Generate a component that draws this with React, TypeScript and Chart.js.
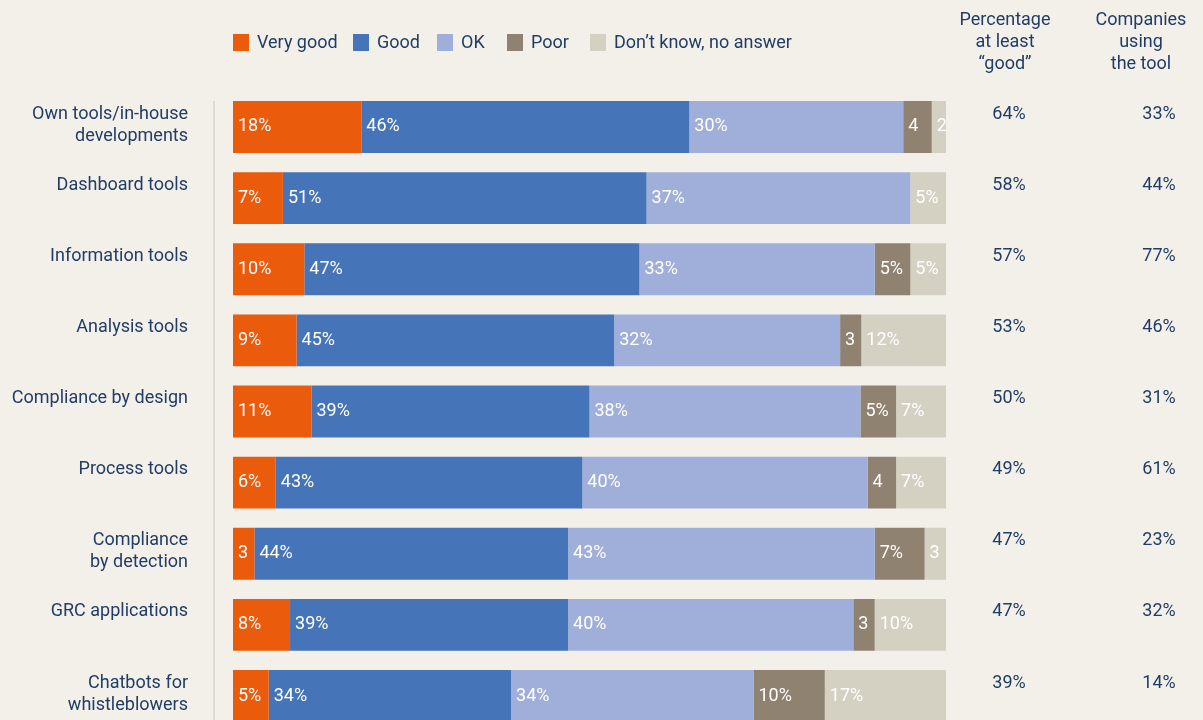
import React, { useEffect, useRef } from "react";
import { Chart, registerables } from "chart.js";

Chart.register(...registerables);

const categories: string[][] = [
  ["Own tools/in-house", "developments"],
  ["Dashboard tools"],
  ["Information tools"],
  ["Analysis tools"],
  ["Compliance by design"],
  ["Process tools"],
  ["Compliance", "by detection"],
  ["GRC applications"],
  ["Chatbots for", "whistleblowers"],
];

const seriesNames = ["Very good", "Good", "OK", "Poor", "Don\u2019t know, no answer"];
const veryGood = [18, 7, 10, 9, 11, 6, 3, 8, 5];
const good = [46, 51, 47, 45, 39, 43, 44, 39, 34];
const ok = [30, 37, 33, 32, 38, 40, 43, 40, 34];
const poor = [4, 0, 5, 3, 5, 4, 7, 3, 10];
const dontKnow = [2, 5, 5, 12, 7, 7, 3, 10, 17];
const atLeastGood = [64, 58, 57, 53, 50, 49, 47, 47, 39];
const companiesUsing = [33, 44, 77, 46, 31, 61, 23, 32, 14];

const colHeader1 = ["Percentage", "at least", "\u201Cgood\u201D"];
const colHeader2 = ["Companies", "using", "the tool"];

const colors = ["#EA5B0C", "#4574B8", "#9FAFD9", "#8F8270", "#D4D1C3"];
const BG = "#F3F0EA";
const NAVY = "#213D65";
const FONT = "Roboto, 'DejaVu Sans', sans-serif";
const FS = 18;
const legendX = [233, 353, 437, 507, 590];

const rawSeries = [veryGood, good, ok, poor, dontKnow];

export default function App() {
  const ref = useRef<HTMLCanvasElement | null>(null);

  useEffect(() => {
    const canvas = ref.current;
    if (!canvas) return;
    document.body.style.margin = "0";
    document.body.style.background = BG;

    const totals = categories.map((_, i) =>
      rawSeries.reduce((s, arr) => s + arr[i], 0)
    );

    const datasets = rawSeries.map((arr, k) => ({
      label: seriesNames[k],
      data: arr.map((v, i) => (v / totals[i]) * 100),
      backgroundColor: colors[k],
      borderWidth: 0,
      barPercentage: 0.73,
      categoryPercentage: 1,
    }));

    const decor = {
      id: "decor",
      beforeDraw(chart: any) {
        const ctx = chart.ctx;
        ctx.save();
        ctx.fillStyle = BG;
        ctx.fillRect(0, 0, chart.width, chart.height);
        ctx.restore();
      },
      afterDatasetsDraw(chart: any) {
        const ctx = chart.ctx;
        ctx.save();
        // bar labels
        ctx.font = `${FS}px ${FONT}`;
        ctx.fillStyle = "#FFFFFF";
        ctx.textAlign = "left";
        ctx.textBaseline = "middle";
        rawSeries.forEach((arr, k) => {
          const meta = chart.getDatasetMeta(k);
          meta.data.forEach((el: any, i: number) => {
            const v = arr[i];
            if (!v) return;
            const left = Math.min(el.base, el.x);
            const txt = v <= 4 ? String(v) : `${v}%`;
            ctx.fillText(txt, left + 5, el.y);
          });
        });

        // vertical separator line
        const firstMeta = chart.getDatasetMeta(0);
        const firstBar: any = firstMeta.data[0];
        ctx.strokeStyle = "#D9D5CA";
        ctx.lineWidth = 1.5;
        ctx.beginPath();
        ctx.moveTo(214, firstBar.y - firstBar.height / 2);
        ctx.lineTo(214, chart.height);
        ctx.stroke();

        // category labels, right columns
        ctx.fillStyle = NAVY;
        ctx.font = `${FS}px ${FONT}`;
        categories.forEach((lines, i) => {
          const el: any = firstMeta.data[i];
          const top = el.y - el.height / 2;
          ctx.textAlign = "right";
          lines.forEach((ln, j) => {
            ctx.fillText(ln, 188, top + 13 + j * 22);
          });
          ctx.textAlign = "center";
          ctx.fillText(`${atLeastGood[i]}%`, 1009, top + 13);
          ctx.fillText(`${companiesUsing[i]}%`, 1159, top + 13);
        });

        // column headers
        ctx.textAlign = "center";
        colHeader1.forEach((ln, j) => ctx.fillText(ln, 1005, 20 + j * 22));
        colHeader2.forEach((ln, j) => ctx.fillText(ln, 1141, 20 + j * 22));

        // legend
        ctx.textAlign = "left";
        seriesNames.forEach((name, k) => {
          const x = legendX[k];
          ctx.fillStyle = colors[k];
          ctx.fillRect(x, 34, 16, 17);
          ctx.fillStyle = NAVY;
          ctx.fillText(name, x + 24, 43);
        });
        ctx.restore();
      },
    };

    const chart = new Chart(canvas, {
      type: "bar",
      data: {
        labels: categories.map((c) => c.join(" ")),
        datasets,
      },
      options: {
        indexAxis: "y",
        responsive: false,
        animation: false,
        layout: {
          padding: { left: 233, right: 257, top: 91.4, bottom: 28.4 },
        },
        plugins: {
          legend: { display: false },
          tooltip: { enabled: false },
        },
        scales: {
          x: {
            stacked: true,
            min: 0,
            max: 100,
            display: false,
          },
          y: {
            stacked: true,
            display: false,
          },
        },
      },
      plugins: [decor],
    } as any);

    return () => chart.destroy();
  }, []);

  return (
    <div
      style={{
        position: "fixed",
        left: 0,
        top: 0,
        width: 1203,
        height: 720,
        overflow: "hidden",
        background: BG,
      }}
    >
      <canvas ref={ref} width={1203} height={760} style={{ display: "block" }} />
    </div>
  );
}
